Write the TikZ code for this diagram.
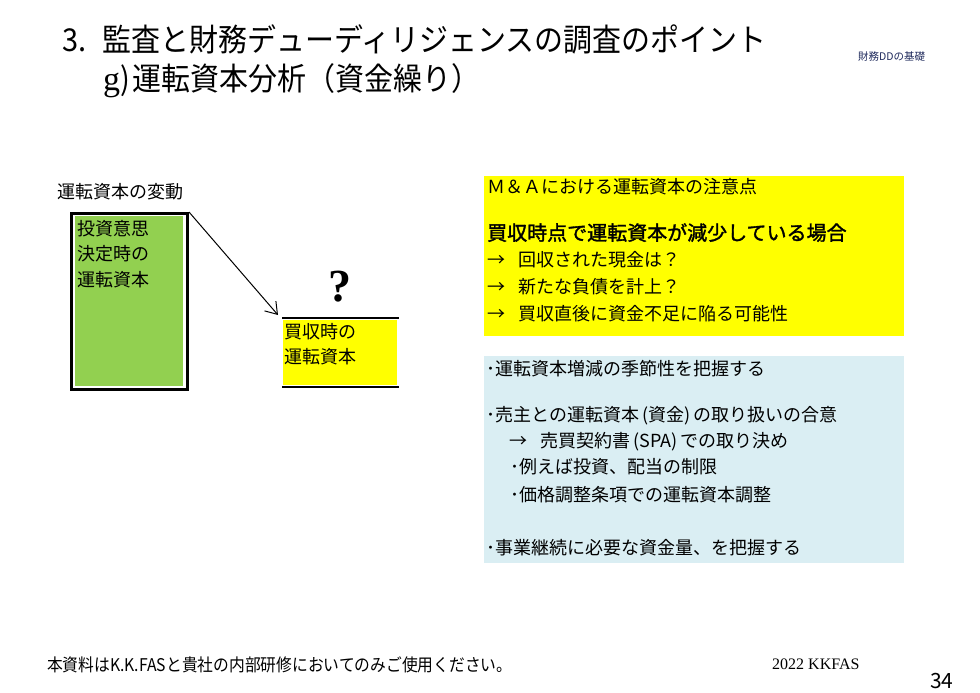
\documentclass[tikz,border=0pt]{standalone}
\usepackage{fontspec}
\usetikzlibrary{arrows.meta}
\setmainfont{Noto Sans CJK JP}
\newfontfamily\narrowjp{Noto Sans CJK JP}[FakeStretch=0.92]
\newfontfamily\footjp{Noto Sans CJK JP}[FakeStretch=0.9]
\newfontfamily\boldjp{Noto Sans CJK JP}[FakeBold=1.6]
\newfontfamily\romanfont{Liberation Serif}
\newcommand\bra[1]{\hspace{3pt}(#1)\hspace{3pt}}
\definecolor{wcgreen}{HTML}{92D050}
\definecolor{noteyellow}{HTML}{FFFF00}
\definecolor{pointblue}{HTML}{DAEEF3}
\definecolor{tagnavy}{HTML}{1F2A5C}

\begin{document}
\begin{tikzpicture}[x=1pt, y=-1pt,
  txt/.style={anchor=base west, inner sep=0pt, font=\fontsize{18}{21}\selectfont},
  lines/.style={anchor=north west, inner sep=0pt, align=left, font=\fontsize{18}{25.5}\selectfont},
  panel/.style={anchor=north west, inner sep=0pt, minimum width=#1}]
\useasboundingbox (0,0) rectangle (980,693);
% title
\node (title) [txt, font=\narrowjp\fontsize{31.5}{36}\selectfont] at (62,51.5) {3.\hspace{16pt}監査と財務デューディリジェンスの調査のポイント};
\node (subtitle) [txt, font=\narrowjp\fontsize{31.5}{36}\selectfont] at (103,90.5) {{\romanfont\fontsize{34}{36}\selectfont g})\hspace{3pt}運転資本分析（資金繰り）};
\node (tag) [txt, font=\fontsize{10.5}{12}\selectfont, text=tagnavy] at (858,60) {財務DDの基礎};

% change of working capital
\node (wclabel) [txt] at (57,198.5) {運転資本の変動};
\node (invest) [panel=116.5pt, draw, line width=3pt, fill=white, minimum height=176pt] at (69.5,212) {};
\fill [wcgreen] (75,215.5) rectangle (183,385.5);
\node (investtxt) [lines] at (77,219.7) {投資意思\\決定時の\\運転資本};
\node (acq) [panel=114pt, fill=noteyellow, minimum height=65pt] at (283,320) {};
\draw [line width=2.5pt] (282,318) -- (399,318) (282,387) -- (399,387);
\node (acqtxt) [lines, font=\fontsize{18}{25}\selectfont] at (284,322.7) {買収時の\\運転資本};
\node (quest) [anchor=base, inner sep=0pt, font=\romanfont\bfseries\fontsize{46}{50}\selectfont] at (340,301) {?};
\draw [-{Straight Barb[length=11pt,width=15pt]}, line width=1pt] (invest.north east) -- ([xshift=-5pt,yshift=5pt]acq.north west);

% caution for M&A
\node (caution) [panel=420pt, fill=noteyellow, minimum height=160pt] at (484,176) {};
\node (cauhead) [txt] at (487,193.5) {Ｍ＆Ａにおける運転資本の注意点};
\node (caucase) [txt, font=\boldjp\fontsize{20}{24}\selectfont] at (487,240.2) {買収時点で運転資本が減少している場合};
\node (cau1) [txt] at (487,266.5) {→\hspace{13pt}回収された現金は？};
\node (cau2) [txt] at (487,293.5) {→\hspace{13pt}新たな負債を計上？};
\node (cau3) [txt] at (487,320.5) {→\hspace{13pt}買収直後に資金不足に陥る可能性};

% points to check
\node (points) [panel=420pt, fill=pointblue, minimum height=207pt] at (484,356) {};
\node (pt1) [txt] at (486,375.5) {･運転資本増減の季節性を把握する};
\node (pt2) [txt] at (486,421.5) {･売主との運転資本\bra{資金}の取り扱いの合意};
\node (pt3) [txt] at (509,447.5) {→\hspace{13pt}売買契約書\bra{SPA}での取り決め};
\node (pt4) [txt] at (510,473.5) {･例えば投資、配当の制限};
\node (pt5) [txt] at (510,501.5) {･価格調整条項での運転資本調整};
\node (pt6) [txt] at (486,554.5) {･事業継続に必要な資金量、を把握する};

% footer
\node (foot) [txt, font=\footjp\fontsize{17.5}{20}\selectfont] at (47,671) {本資料はK.K.FASと貴社の内部研修においてのみご使用ください。};
\node (year) [txt, font=\romanfont\fontsize{16}{18}\selectfont] at (772,669.5) {2022 KKFAS};
\node (page) [txt, font=\fontsize{21}{24}\selectfont] at (930,688.5) {34};
\end{tikzpicture}
\end{document}
